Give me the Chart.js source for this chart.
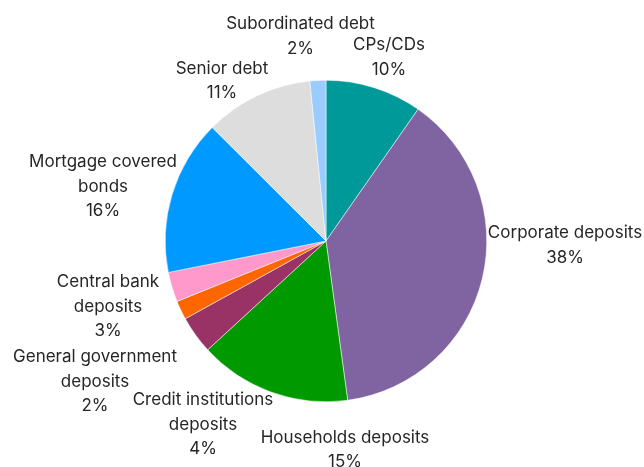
<!DOCTYPE html>
<html>
<head>
<meta charset="utf-8">
<script src="https://cdn.jsdelivr.net/npm/chart.js@4.4.1/dist/chart.umd.min.js"></script>
<style>
  html, body { margin: 0; padding: 0; background: #fff; }
  #wrap { width: 644px; height: 467px; position: relative; }
</style>
</head>
<body>
<div id="wrap"><canvas id="chart"></canvas></div>
<script>
// Funding structure shares, clockwise from 12 o'clock
const categories = [
  'CPs/CDs',
  'Corporate deposits',
  'Households deposits',
  'Credit institutions deposits',
  'General government deposits',
  'Central bank deposits',
  'Mortgage covered bonds',
  'Senior debt',
  'Subordinated debt'
];
const shares = [9.7, 38.1, 15.3, 3.8, 1.9, 3.0, 15.6, 10.9, 1.6];

const colors = ['#009999', '#8064a2', '#009900', '#993366', '#ff6600', '#ff99cc', '#0099ff', '#dddddd', '#99ccff'];

// how each label wraps, and where its first line sits relative to the pie centre
const labelLines = [
  ['CPs/CDs'],
  ['Corporate deposits'],
  ['Households deposits'],
  ['Credit institutions', 'deposits'],
  ['General government', 'deposits'],
  ['Central bank', 'deposits'],
  ['Mortgage covered', 'bonds'],
  ['Senior debt'],
  ['Subordinated debt']
];
const labelOffsets = [
  [63, -196], [239, -8], [19, 196.5], [-123, 159], [-231, 116],
  [-218, 41], [-223, -79], [-104, -172.5], [-25.5, -217]
];

const fontFamily = 'Inter, "Liberation Sans", sans-serif';

const sliceLabels = {
  id: 'sliceLabels',
  afterDatasetsDraw(chart) {
    const ctx = chart.ctx;
    const meta = chart.getDatasetMeta(0);
    const arc = meta.data[0];
    const cx = arc.x, cy = arc.y;
    const total = shares.reduce((a, b) => a + b, 0);
    ctx.save();
    ctx.fillStyle = '#262626';
    ctx.font = '17px ' + fontFamily;
    ctx.textAlign = 'center';
    ctx.textBaseline = 'middle';
    shares.forEach((v, i) => {
      const lines = labelLines[i].concat([Math.round(v / total * 100) + '%']);
      const [dx, dy] = labelOffsets[i];
      lines.forEach((t, j) => {
        ctx.fillText(t, cx + dx, cy + dy + j * 24.5);
      });
    });
    ctx.restore();
  }
};

new Chart(document.getElementById('chart'), {
  type: 'pie',
  data: {
    labels: categories,
    datasets: [{
      data: shares,
      backgroundColor: colors,
      borderColor: '#ffffff',
      borderWidth: 0.5
    }]
  },
  options: {
    responsive: true,
    maintainAspectRatio: false,
    animation: false,
    layout: { padding: { top: 80, bottom: 65, left: 165, right: 157 } },
    plugins: {
      legend: { display: false },
      tooltip: { enabled: false }
    }
  },
  plugins: [sliceLabels]
});
</script>
</body>
</html>
